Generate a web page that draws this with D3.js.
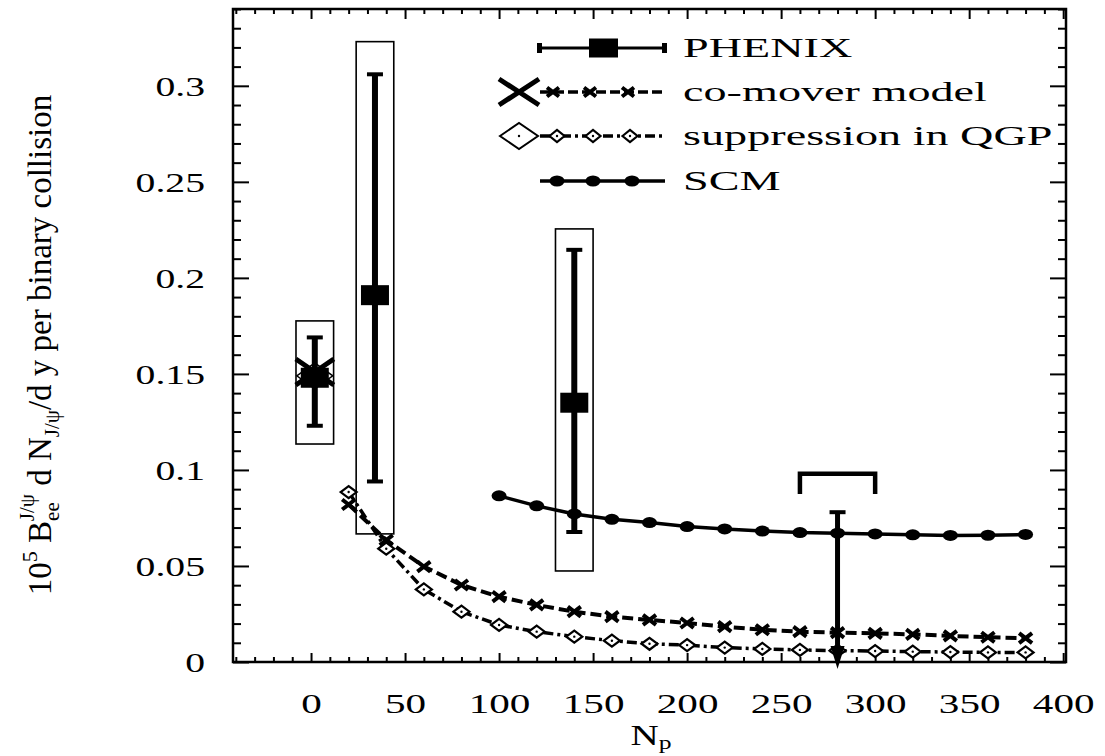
<!DOCTYPE html>
<html><head><meta charset="utf-8">
<script src="https://cdn.jsdelivr.net/npm/d3@7"></script>
<style>
body{margin:0;background:#fff;}
svg{display:block;}
text{font-family:"Liberation Serif","Times New Roman",serif;fill:#000;}
</style>
</head><body>
<svg id="c" width="1105" height="756"></svg>
<script>
// ---------------- data ----------------
const modelNp = [20,40,60,80,100,120,140,160,180,200,220,240,260,280,300,320,340,360,380];
const comoverVals = [0.082,0.0635,0.0497,0.0401,0.034,0.0297,0.0262,0.0236,0.0219,0.0203,0.0184,0.0168,0.0158,0.0153,0.0149,0.0144,0.0136,0.0129,0.0124];
const qgpVals = [0.0885,0.059,0.0378,0.0262,0.0193,0.0158,0.0132,0.0111,0.0095,0.0088,0.0075,0.0068,0.0063,0.0059,0.0057,0.0054,0.0052,0.0050,0.0050];
const scmNp = [100,120,140,160,180,200,220,240,260,280,300,320,340,360,380];
const scmVals = [0.0865,0.0813,0.0771,0.0743,0.0726,0.0705,0.0693,0.0682,0.0674,0.0671,0.0667,0.0662,0.0659,0.0660,0.0664];

const phenixNp = [2,34,140];
const phenixVals = [0.148,0.191,0.135];
const phenixErrLo = [0.123,0.094,0.0677];
const phenixErrHi = [0.169,0.306,0.2146];
const phenixSysLo = [0.1135,0.0667,0.0474];
const phenixSysHi = [0.1776,0.323,0.2255];
const phenixSysHalfWidth = 10;

const ppNp = 2;
const ppComover = 0.151;
const ppQgp = 0.149;

const limitNp = 280;
const limitVal = 0.078;
const limitSysNp = [260,300];
const limitSysVals = [0.098,0.0875];

const xTickVals = [0,50,100,150,200,250,300,350,400];
const xTickLabels = ["0","50","100","150","200","250","300","350","400"];
const yTickVals = [0,0.05,0.1,0.15,0.2,0.25,0.3];
const yTickLabels = ["0","0.05","0.1","0.15","0.2","0.25","0.3"];
const legendLabels = ["PHENIX","co-mover model","suppression in QGP","SCM"];

// ---------------- layout ----------------
const L=233,R=1066,T=9,B=662;
const x = d3.scaleLinear().domain([-41.5,401.5]).range([L,R]);
const y = d3.scaleLinear().domain([0,0.34]).range([B,T]);
const svg = d3.select("#c");
const SX = 1.47; // horizontal stretch of glyphs

const xMinor = d3.range(-40,401,10).filter(v=>v%50!==0);
const yMinor = d3.range(0,35).map(i=>i/100).filter(v=>Math.round(v*100)%5!==0);

function styleAxis(g){
  g.select(".domain").remove();
  g.selectAll("line").attr("stroke","#000").attr("stroke-width",2);
}
// bottom
svg.append("g").attr("transform",`translate(0,${B})`)
  .call(d3.axisBottom(x).tickValues(xTickVals).tickSize(-9).tickPadding(51).tickFormat((d,i)=>xTickLabels[i]))
  .call(styleAxis)
  .call(g=>g.selectAll("text").attr("font-size",28).attr("font-family","Liberation Serif").attr("dy",null).attr("transform",`scale(${SX},1)`));
svg.append("g").attr("transform",`translate(0,${B})`)
  .call(d3.axisBottom(x).tickValues(xMinor).tickSize(-5).tickFormat("")).call(styleAxis);
// top
svg.append("g").attr("transform",`translate(0,${T})`)
  .call(d3.axisTop(x).tickValues(xTickVals).tickSize(-10).tickFormat("")).call(styleAxis);
svg.append("g").attr("transform",`translate(0,${T})`)
  .call(d3.axisTop(x).tickValues(xMinor).tickSize(-5).tickFormat("")).call(styleAxis);
// left
svg.append("g").attr("transform",`translate(${L},0)`)
  .call(d3.axisLeft(y).tickValues(yTickVals).tickSize(-16).tickPadding(28).tickFormat((d,i)=>yTickLabels[i]))
  .call(styleAxis)
  .call(g=>g.selectAll("text").attr("font-size",27).attr("font-family","Liberation Serif")
    .attr("x",-28/SX).attr("dy","0.36em").attr("transform",`scale(${SX},1)`));
svg.append("g").attr("transform",`translate(${L},0)`)
  .call(d3.axisLeft(y).tickValues(yMinor).tickSize(-8).tickFormat("")).call(styleAxis);
// right
svg.append("g").attr("transform",`translate(${R},0)`)
  .call(d3.axisRight(y).tickValues(yTickVals).tickSize(-16).tickFormat("")).call(styleAxis);
svg.append("g").attr("transform",`translate(${R},0)`)
  .call(d3.axisRight(y).tickValues(yMinor).tickSize(-8).tickFormat("")).call(styleAxis);
// frame
svg.append("rect").attr("x",L).attr("y",T).attr("width",R-L).attr("height",B-T)
  .attr("fill","none").attr("stroke","#000").attr("stroke-width",2.5);

// axis titles
const xl = svg.append("text").attr("transform",`translate(651,745) scale(1.35,1)`).attr("text-anchor","middle").attr("font-size",29);
xl.append("tspan").text("N");
xl.append("tspan").attr("font-size",19).attr("dy",4).text("p");

const yl = svg.append("text").attr("transform","translate(51,345) rotate(-90)").attr("text-anchor","middle").attr("font-size",33);
yl.append("tspan").text("10");
yl.append("tspan").attr("font-size",22).attr("dy",-14).text("5");
yl.append("tspan").attr("dy",14).text(" B");
yl.append("tspan").attr("font-size",21).attr("dy",8).text("ee");
yl.append("tspan").attr("font-size",21).attr("dx",-19).attr("dy",-25).text("J/ψ");
yl.append("tspan").attr("dy",17).text(" d N");
yl.append("tspan").attr("font-size",21).attr("dy",8).text("J/ψ");
yl.append("tspan").attr("dy",-8).text("/d y per binary collision");

// ---------------- marks ----------------
const plot = svg.append("g");
// systematic boxes
plot.selectAll("rect.sys").data(phenixNp).join("rect").attr("class","sys")
  .attr("x",(d)=>x(d-phenixSysHalfWidth)).attr("width",(d)=>x(d+phenixSysHalfWidth)-x(d-phenixSysHalfWidth))
  .attr("y",(d,i)=>y(phenixSysHi[i])).attr("height",(d,i)=>y(phenixSysLo[i])-y(phenixSysHi[i]))
  .attr("fill","none").attr("stroke","#000").attr("stroke-width",1.6);

const line = d3.line().x(d=>x(d[0])).y(d=>y(d[1]));
const scmData = scmNp.map((n,i)=>[n,scmVals[i]]);
const comData = modelNp.map((n,i)=>[n,comoverVals[i]]);
const qgpData = modelNp.map((n,i)=>[n,qgpVals[i]]);

function xMark(g,cx,cy,hw,hh,sw){
  g.append("path").attr("d",`M${cx-hw},${cy-hh}L${cx+hw},${cy+hh}M${cx-hw},${cy+hh}L${cx+hw},${cy-hh}`)
    .attr("stroke","#000").attr("stroke-width",sw).attr("fill","none");
}
function diamond(g,cx,cy,hw,hh,sw){
  g.append("path").attr("d",`M${cx-hw},${cy}L${cx},${cy-hh}L${cx+hw},${cy}L${cx},${cy+hh}Z`)
    .attr("stroke","#000").attr("stroke-width",sw).attr("fill","#fff");
  g.append("circle").attr("cx",cx).attr("cy",cy).attr("r",1.2).attr("fill","#000");
}
function dot(g,cx,cy){
  g.append("ellipse").attr("cx",cx).attr("cy",cy).attr("rx",7.5).attr("ry",5.5).attr("fill","#000");
}

// QGP curve
plot.append("path").attr("d",line(qgpData)).attr("fill","none").attr("stroke","#000")
  .attr("stroke-width",3.5).attr("stroke-dasharray","10,4,3,4");
qgpData.forEach(d=>diamond(plot,x(d[0]),y(d[1]),8,6,2.2));
// co-mover curve
plot.append("path").attr("d",line(comData)).attr("fill","none").attr("stroke","#000")
  .attr("stroke-width",4).attr("stroke-dasharray","11,5");
comData.forEach(d=>xMark(plot,x(d[0]),y(d[1]),6.5,5,4));
// SCM
plot.append("path").attr("d",line(scmData)).attr("fill","none").attr("stroke","#000").attr("stroke-width",3.5);
scmData.forEach(d=>dot(plot,x(d[0]),y(d[1])));

// pp model points
diamond(plot,x(ppNp),y(ppQgp),18,13,1.5);
xMark(plot,x(ppNp),y(ppComover),19,13,5);

// PHENIX error bars
phenixNp.forEach((n,i)=>{
  const cx=x(n);
  plot.append("line").attr("x1",cx).attr("x2",cx).attr("y1",y(phenixErrHi[i])).attr("y2",y(phenixErrLo[i]))
    .attr("stroke","#000").attr("stroke-width",6);
  [phenixErrHi[i],phenixErrLo[i]].forEach(v=>plot.append("line").attr("x1",cx-8).attr("x2",cx+8)
    .attr("y1",y(v)).attr("y2",y(v)).attr("stroke","#000").attr("stroke-width",4));
  plot.append("rect").attr("x",cx-14).attr("y",y(phenixVals[i])-10).attr("width",28).attr("height",20).attr("fill","#000");
});
// upper limit
{
  const cx=x(limitNp);
  plot.append("line").attr("x1",cx).attr("x2",cx).attr("y1",y(limitVal)).attr("y2",y(0)-8)
    .attr("stroke","#000").attr("stroke-width",5);
  plot.append("line").attr("x1",cx-8).attr("x2",cx+8).attr("y1",y(limitVal)).attr("y2",y(limitVal))
    .attr("stroke","#000").attr("stroke-width",4);
  plot.append("path").attr("d",`M${cx-7},${y(0)-16}L${cx+7},${y(0)-16}L${cx},${y(0)+7}Z`).attr("fill","#000");
  const xa=x(limitSysNp[0]), xb=x(limitSysNp[1]), yt=y(limitSysVals[0]), yb=y(limitSysVals[1]);
  plot.append("path").attr("d",`M${xa},${yb}L${xa},${yt}L${xb},${yt}L${xb},${yb}`)
    .attr("fill","none").attr("stroke","#000").attr("stroke-width",4.5);
}

// ---------------- legend ----------------
const lg = svg.append("g");
const rowY = [48,92,136,181];
const lx0=540, lx1=665;
// PHENIX
lg.append("line").attr("x1",lx0).attr("x2",lx1).attr("y1",rowY[0]).attr("y2",rowY[0]).attr("stroke","#000").attr("stroke-width",3);
[lx0,lx1].forEach(v=>lg.append("rect").attr("x",v-3).attr("y",rowY[0]-5).attr("width",5).attr("height",10).attr("fill","#000"));
lg.append("rect").attr("x",589).attr("y",rowY[0]-9.5).attr("width",29).attr("height",19).attr("fill","#000");
// co-mover
xMark(lg,519,rowY[1],20,13,5);
lg.append("line").attr("x1",lx0).attr("x2",lx1).attr("y1",rowY[1]).attr("y2",rowY[1]).attr("stroke","#000").attr("stroke-width",3.5).attr("stroke-dasharray","10,4");
[553,590,628].forEach(v=>xMark(lg,v,rowY[1],6,4.5,4));
// QGP
diamond(lg,519,rowY[2],19,13,2);
lg.append("line").attr("x1",lx0).attr("x2",lx1).attr("y1",rowY[2]).attr("y2",rowY[2]).attr("stroke","#000").attr("stroke-width",3.5).attr("stroke-dasharray","10,4,3,4");
[557,593,630].forEach(v=>diamond(lg,v,rowY[2],7.5,6,2.2));
// SCM
lg.append("line").attr("x1",lx0).attr("x2",lx1).attr("y1",rowY[3]).attr("y2",rowY[3]).attr("stroke","#000").attr("stroke-width",3.5);
[557,593,632].forEach(v=>dot(lg,v,rowY[3]));
// labels
const textBase = [57,101,145,190];
legendLabels.forEach((t,i)=>{
  lg.append("text").attr("transform",`translate(683,${textBase[i]}) scale(1.65,1)`).attr("font-size",28).text(t);
});
</script>
</body></html>
